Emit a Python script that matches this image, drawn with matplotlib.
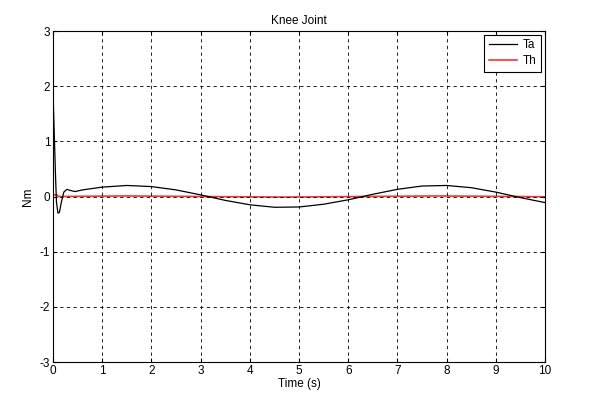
import matplotlib
matplotlib.use("Agg")
import matplotlib.pyplot as plt

plt.rcParams['font.family'] = ['Liberation Sans', 'DejaVu Sans']
plt.rcParams['axes.unicode_minus'] = False

ta_t = [0.0, 0.01, 0.03, 0.05, 0.07, 0.10, 0.13, 0.17, 0.22, 0.28, 0.35, 0.45, 0.6,
        1.0, 1.5, 2.0, 2.5, 3.0, 3.5, 4.0, 4.5, 5.0, 5.5, 6.0, 6.5, 7.0,
        7.5, 8.0, 8.5, 9.0, 9.5, 10.0]
ta_v = [2.2, 1.6, 1.0, 0.4, -0.1, -0.3, -0.29, -0.1, 0.08, 0.13, 0.11, 0.09, 0.12,
        0.17, 0.20, 0.18, 0.12, 0.03, -0.07, -0.15, -0.195, -0.19, -0.14, -0.06,
        0.04, 0.13, 0.19, 0.20, 0.16, 0.08, -0.02, -0.11]

# Th: reference torque
th_t = [0.0, 0.08, 0.11, 1.5, 3.0, 4.7, 6.3, 7.8, 9.4, 10.0]
th_v = [0.03, 0.03, 0.0, 0.01, 0.0, -0.01, 0.0, 0.01, 0.0, -0.005]

fig = plt.figure(figsize=(6.01, 3.99), dpi=100)
ax = fig.add_axes([0.0882, 0.0927, 0.8186, 0.8296])

ax.plot(th_t, th_v, color='#ff3030', lw=1.2, label='Th', zorder=1)
ax.plot(ta_t, ta_v, color='black', lw=0.9, label='Ta', zorder=3)

ax.set_xlim(0, 10)
ax.set_ylim(-3, 3)
ax.set_xticks(range(0, 11))
ax.set_yticks(range(-3, 4))
ax.grid(True, color='black', linestyle=(0, (4, 4)), linewidth=0.6, zorder=2)
ax.set_axisbelow(False)
ax.tick_params(direction='in', top=True, right=True, labelsize=8.5, length=3, pad=2)
for s in ax.spines.values():
    s.set_linewidth(0.8)

ax.set_title('Knee Joint', fontsize=8.5, pad=5)
ax.set_xlabel('Time (s)', fontsize=8.5, labelpad=1)
ax.set_ylabel('Nm', fontsize=8.5, labelpad=4)

h, l = ax.get_legend_handles_labels()
leg = ax.legend([h[1], h[0]], [l[1], l[0]], loc='upper right', fontsize=8.5,
                fancybox=False, edgecolor='black', framealpha=1,
                borderaxespad=0.3, handlelength=2.4, handletextpad=0.5,
                labelspacing=0.3, borderpad=0.4)
leg.get_frame().set_linewidth(0.8)

fig.savefig('out.png', dpi=100)
